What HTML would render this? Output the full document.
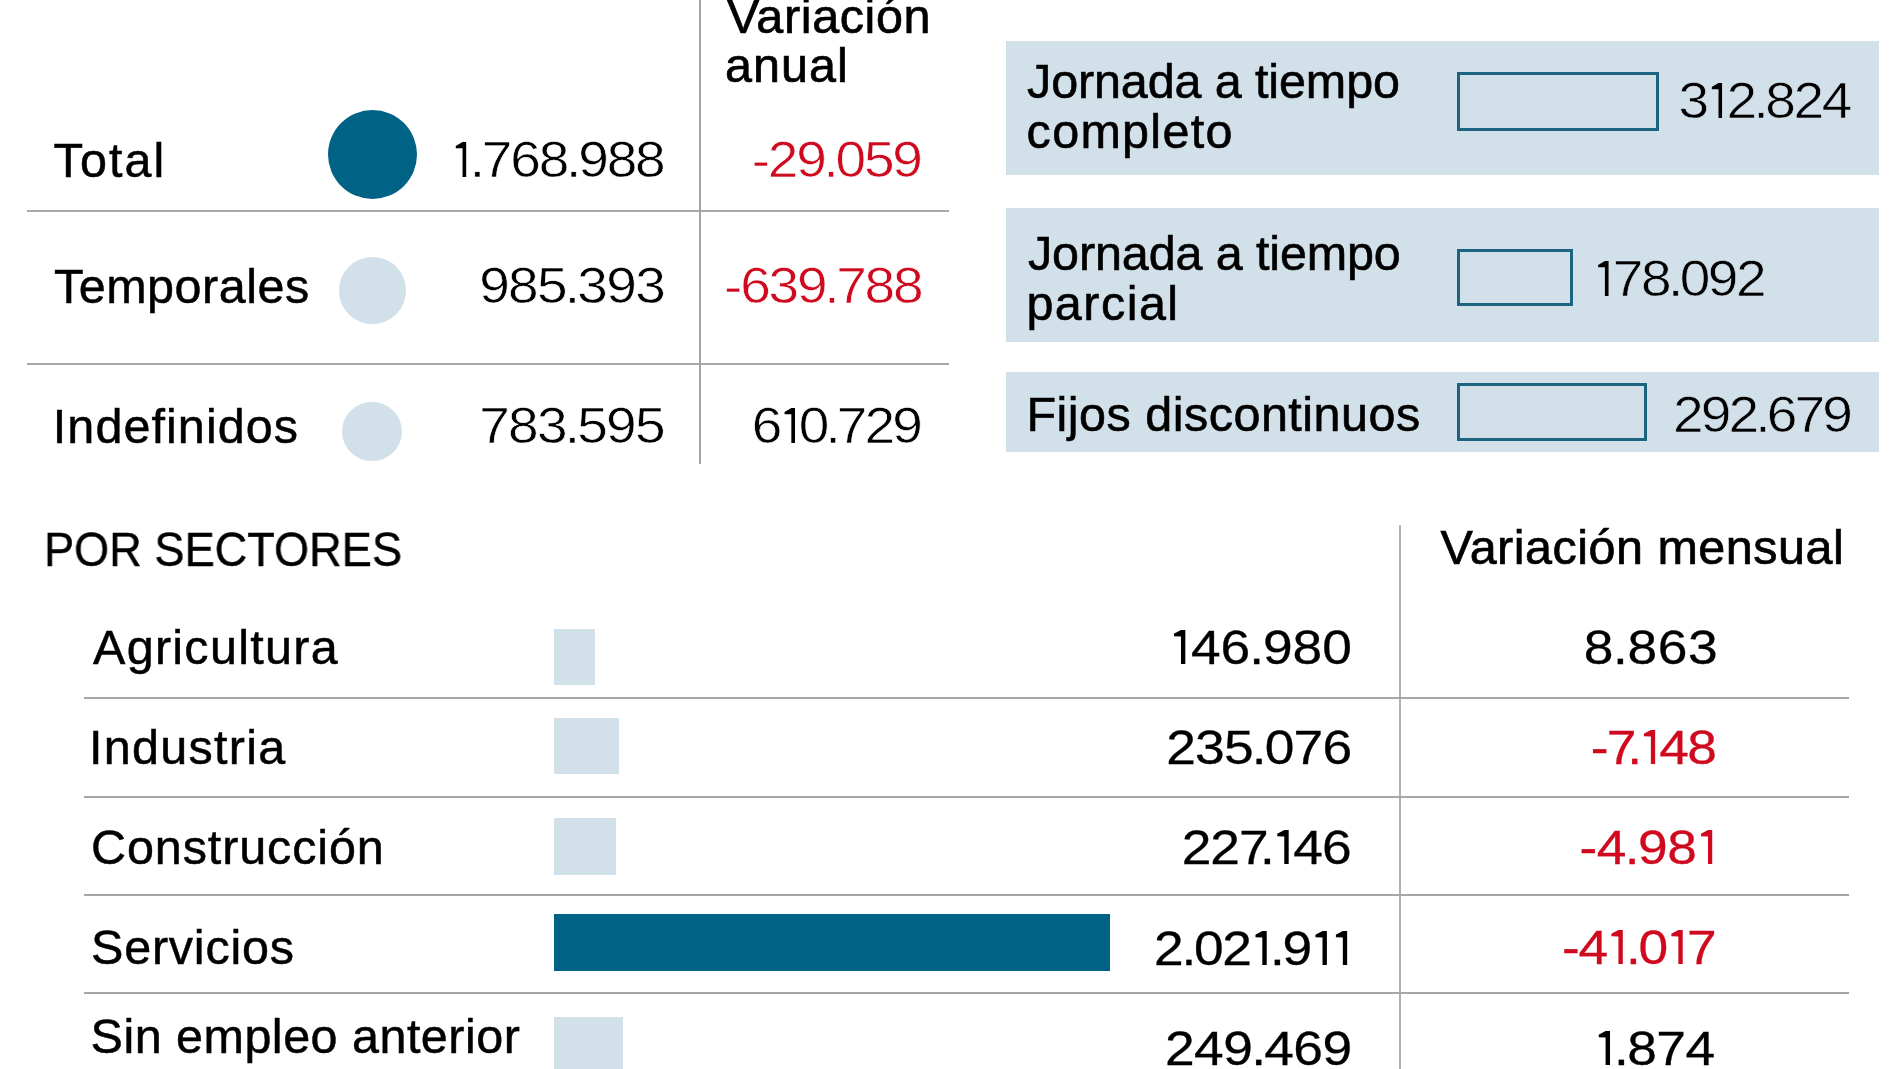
<!DOCTYPE html>
<html><head><meta charset="utf-8"><style>
html,body{margin:0;padding:0;background:#fff;width:1900px;height:1069px;overflow:hidden;position:relative;}
.t{position:absolute;white-space:nowrap;font-family:"Liberation Sans",sans-serif;}
.a{position:absolute;}
.one{display:inline-block;position:relative;width:0.404em;height:0.70em;}
.one::before{content:"";position:absolute;left:0;top:0;width:100%;height:100%;background:currentColor;clip-path:polygon(76.6% 0,76.6% 100%,53.6% 100%,53.6% 19.5%,18.5% 18%,18.5% 11%,53.6% 0);}
.one.thin::before{clip-path:polygon(70% 0,70% 100%,53.6% 100%,53.6% 17.5%,23% 17.5%,23% 11.5%,53.6% 0);}
.one.mid::before{clip-path:polygon(74% 0,74% 100%,53.6% 100%,53.6% 19%,21% 18%,21% 11%,53.6% 0);}
</style></head><body>
<!-- top-left table -->
<div class="a" style="left:27px;top:210px;width:922px;height:2px;background:#a9a9a9"></div>
<div class="a" style="left:27px;top:363px;width:922px;height:2px;background:#a9a9a9"></div>
<div class="a" style="left:699px;top:0px;width:2px;height:464px;background:#a3a3a3"></div>
<div class="a" style="left:327.5px;top:110px;width:89px;height:89px;border-radius:50%;background:#006284"></div>
<div class="a" style="left:339px;top:257px;width:66.5px;height:66.5px;border-radius:50%;background:#d2e0ea"></div>
<div class="a" style="left:342.2px;top:401.5px;width:59.5px;height:59.5px;border-radius:50%;background:#d2e0ea"></div>
<!-- right boxes -->
<div class="a" style="left:1006px;top:41px;width:873px;height:134px;background:#d2e0ea"></div>
<div class="a" style="left:1006px;top:208px;width:873px;height:134px;background:#d2e0ea"></div>
<div class="a" style="left:1006px;top:372px;width:873px;height:80px;background:#d2e0ea"></div>
<div class="a" style="left:1457px;top:72px;width:202px;height:59px;box-sizing:border-box;border:3px solid #1d6482"></div>
<div class="a" style="left:1457px;top:249px;width:116px;height:57px;box-sizing:border-box;border:3px solid #1d6482"></div>
<div class="a" style="left:1457px;top:383px;width:190px;height:58px;box-sizing:border-box;border:3px solid #1d6482"></div>
<!-- bottom table -->
<div class="a" style="left:1399px;top:525px;width:2px;height:544px;background:#b0b0b0"></div>
<div class="a" style="left:84px;top:697px;width:1765px;height:2px;background:#a6a6a6"></div>
<div class="a" style="left:84px;top:796px;width:1765px;height:2px;background:#a6a6a6"></div>
<div class="a" style="left:84px;top:894px;width:1765px;height:2px;background:#a6a6a6"></div>
<div class="a" style="left:84px;top:992px;width:1765px;height:2px;background:#a6a6a6"></div>
<div class="a" style="left:554px;top:629px;width:41px;height:56px;background:#d2e0ea"></div>
<div class="a" style="left:554px;top:718px;width:65px;height:56px;background:#d2e0ea"></div>
<div class="a" style="left:554px;top:818px;width:62px;height:57px;background:#d2e0ea"></div>
<div class="a" style="left:554px;top:914px;width:556px;height:57px;background:#006284"></div>
<div class="a" style="left:554px;top:1017px;width:69px;height:60px;background:#d2e0ea"></div>

<div class="t" style="top:-13.41px;font-size:48.5px;line-height:58px;letter-spacing:0.62px;color:#000;-webkit-text-stroke:0.7px #000;left:727.00px;">Variación</div>
<div class="t" style="top:36.49px;font-size:48.5px;line-height:58px;letter-spacing:1.00px;color:#000;-webkit-text-stroke:0.7px #000;left:725.00px;">anual</div>
<div class="t" style="top:130.79px;font-size:48.5px;line-height:58px;letter-spacing:2.08px;color:#000;-webkit-text-stroke:0.5px #000;left:53.60px;">Total</div>
<div class="t" style="top:130.18px;font-size:50px;line-height:60px;letter-spacing:-1.92px;color:#000;-webkit-text-stroke:0.6px #fff;transform:scaleX(1.1000);transform-origin:right center;will-change:transform;right:1236.72px;text-align:right;"><span class="one thin" style="margin-right:-1.92px"></span><span style="margin-left:-1px;letter-spacing:-2.92px">.</span>768<span style="margin-left:-1px;letter-spacing:-2.92px">.</span>988</div>
<div class="t" style="top:129.68px;font-size:50px;line-height:60px;letter-spacing:-1.98px;color:#cf0a1e;-webkit-text-stroke:0.6px #fff;transform:scaleX(1.1000);transform-origin:right center;will-change:transform;right:979.18px;text-align:right;">-29<span style="margin-left:-1px;letter-spacing:-2.98px">.</span>059</div>
<div class="t" style="top:257.09px;font-size:48.5px;line-height:58px;letter-spacing:0.50px;color:#000;-webkit-text-stroke:0.5px #000;left:54.00px;">Temporales</div>
<div class="t" style="top:256.28px;font-size:50px;line-height:60px;letter-spacing:-1.52px;color:#000;-webkit-text-stroke:0.6px #fff;transform:scaleX(1.1000);transform-origin:right center;will-change:transform;right:1235.92px;text-align:right;">985<span style="margin-left:-1px;letter-spacing:-2.52px">.</span>393</div>
<div class="t" style="top:256.18px;font-size:50px;line-height:60px;letter-spacing:-2.01px;color:#cf0a1e;-webkit-text-stroke:0.6px #fff;transform:scaleX(1.1000);transform-origin:right center;will-change:transform;right:978.81px;text-align:right;">-639<span style="margin-left:-1px;letter-spacing:-3.01px">.</span>788</div>
<div class="t" style="top:396.79px;font-size:48.5px;line-height:58px;letter-spacing:1.07px;color:#000;-webkit-text-stroke:0.5px #000;left:52.80px;">Indefinidos</div>
<div class="t" style="top:396.18px;font-size:50px;line-height:60px;letter-spacing:-1.57px;color:#000;-webkit-text-stroke:0.6px #fff;transform:scaleX(1.1000);transform-origin:right center;will-change:transform;right:1235.97px;text-align:right;">783<span style="margin-left:-1px;letter-spacing:-2.57px">.</span>595</div>
<div class="t" style="top:396.18px;font-size:50px;line-height:60px;letter-spacing:-2.60px;color:#000;-webkit-text-stroke:0.6px #fff;transform:scaleX(1.1000);transform-origin:right center;will-change:transform;right:980.40px;text-align:right;">6<span class="one thin" style="margin-right:-2.60px"></span>0<span style="margin-left:-1px;letter-spacing:-3.60px">.</span>729</div>
<div class="t" style="top:52.19px;font-size:48.5px;line-height:58px;letter-spacing:-0.12px;color:#000;-webkit-text-stroke:0.6px #000;left:1027.00px;">Jornada a tiempo</div>
<div class="t" style="top:102.39px;font-size:48.5px;line-height:58px;letter-spacing:1.29px;color:#000;-webkit-text-stroke:0.6px #000;left:1026.60px;">completo</div>
<div class="t" style="top:71.17px;font-size:50px;line-height:60px;letter-spacing:-2.17px;color:#000;-webkit-text-stroke:0.6px #d2e0ea;transform:scaleX(1.1000);transform-origin:right center;will-change:transform;right:49.57px;text-align:right;">3<span class="one thin" style="margin-right:-2.17px"></span>2<span style="margin-left:-1px;letter-spacing:-3.17px">.</span>824</div>
<div class="t" style="top:224.19px;font-size:48.5px;line-height:58px;letter-spacing:-0.13px;color:#000;-webkit-text-stroke:0.6px #000;left:1028.00px;">Jornada a tiempo</div>
<div class="t" style="top:273.89px;font-size:48.5px;line-height:58px;letter-spacing:1.48px;color:#000;-webkit-text-stroke:0.6px #000;left:1026.40px;">parcial</div>
<div class="t" style="top:249.48px;font-size:50px;line-height:60px;letter-spacing:-2.22px;color:#000;-webkit-text-stroke:0.6px #d2e0ea;transform:scaleX(1.1000);transform-origin:left center;will-change:transform;left:1593.40px;"><span class="one thin" style="margin-right:-2.22px"></span>78<span style="margin-left:-1px;letter-spacing:-3.22px">.</span>092</div>
<div class="t" style="top:385.19px;font-size:48.5px;line-height:58px;letter-spacing:0.49px;color:#000;-webkit-text-stroke:0.6px #000;left:1026.40px;">Fijos discontinuos</div>
<div class="t" style="top:385.18px;font-size:50px;line-height:60px;letter-spacing:-2.52px;color:#000;-webkit-text-stroke:0.6px #d2e0ea;transform:scaleX(1.1000);transform-origin:right center;will-change:transform;right:50.32px;text-align:right;">292<span style="margin-left:-1px;letter-spacing:-3.52px">.</span>679</div>
<div class="t" style="top:519.99px;font-size:48.5px;line-height:58px;letter-spacing:0.00px;color:#000;-webkit-text-stroke:0.4px #000;transform:scaleX(0.9310);transform-origin:left center;will-change:transform;left:43.60px;">POR SECTORES</div>
<div class="t" style="top:518.09px;font-size:48.5px;line-height:58px;letter-spacing:0.50px;color:#000;-webkit-text-stroke:0.7px #000;left:1440.40px;">Variación mensual</div>
<div class="t" style="top:618.19px;font-size:48.5px;line-height:58px;letter-spacing:1.28px;color:#000;-webkit-text-stroke:0.5px #000;left:93.00px;">Agricultura</div>
<div class="t" style="top:718.19px;font-size:48.5px;line-height:58px;letter-spacing:1.27px;color:#000;-webkit-text-stroke:0.5px #000;left:89.00px;">Industria</div>
<div class="t" style="top:818.19px;font-size:48.5px;line-height:58px;letter-spacing:0.89px;color:#000;-webkit-text-stroke:0.5px #000;left:91.00px;">Construcción</div>
<div class="t" style="top:918.19px;font-size:48.5px;line-height:58px;letter-spacing:0.78px;color:#000;-webkit-text-stroke:0.5px #000;left:91.00px;">Servicios</div>
<div class="t" style="top:1007.49px;font-size:48.5px;line-height:58px;letter-spacing:0.48px;color:#000;-webkit-text-stroke:0.5px #000;left:90.60px;">Sin empleo anterior</div>
<div class="t" style="top:618.19px;font-size:48.5px;line-height:58px;letter-spacing:-0.01px;color:#000;-webkit-text-stroke:0.3px #000;transform:scaleX(1.1000);transform-origin:right center;will-change:transform;right:548.01px;text-align:right;"><span class="one mid" style="margin-right:-0.01px"></span>46<span style="margin-left:-1px;letter-spacing:-1.01px">.</span>980</div>
<div class="t" style="top:718.19px;font-size:48.5px;line-height:58px;letter-spacing:-0.72px;color:#000;-webkit-text-stroke:0.3px #000;transform:scaleX(1.1000);transform-origin:right center;will-change:transform;right:548.72px;text-align:right;">235<span style="margin-left:-1px;letter-spacing:-1.72px">.</span>076</div>
<div class="t" style="top:818.19px;font-size:48.5px;line-height:58px;letter-spacing:-0.90px;color:#000;-webkit-text-stroke:0.3px #000;transform:scaleX(1.1000);transform-origin:right center;will-change:transform;right:548.90px;text-align:right;">227<span style="margin-left:-7px;letter-spacing:-1.90px">.</span><span class="one mid" style="margin-right:-0.90px"></span>46</div>
<div class="t" style="top:918.69px;font-size:48.5px;line-height:58px;letter-spacing:-1.12px;color:#000;-webkit-text-stroke:0.3px #000;transform:scaleX(1.1000);transform-origin:right center;will-change:transform;right:548.12px;text-align:right;">2<span style="margin-left:-1px;letter-spacing:-2.12px">.</span>02<span class="one mid" style="margin-right:-1.12px"></span><span style="margin-left:-1px;letter-spacing:-2.12px">.</span>9<span class="one mid" style="margin-right:-1.12px"></span><span class="one mid" style="margin-right:-1.12px"></span></div>
<div class="t" style="top:1019.19px;font-size:48.5px;line-height:58px;letter-spacing:-0.55px;color:#000;-webkit-text-stroke:0.3px #000;transform:scaleX(1.1000);transform-origin:right center;will-change:transform;right:548.55px;text-align:right;">249<span style="margin-left:-1px;letter-spacing:-1.55px">.</span>469</div>
<div class="t" style="top:617.69px;font-size:48.5px;line-height:58px;letter-spacing:0.60px;color:#000;-webkit-text-stroke:0.3px #000;transform:scaleX(1.1000);transform-origin:right center;will-change:transform;right:181.80px;text-align:right;">8<span style="margin-left:-1px;letter-spacing:-0.40px">.</span>863</div>
<div class="t" style="top:717.99px;font-size:48.5px;line-height:58px;letter-spacing:-1.46px;color:#cf0a1e;-webkit-text-stroke:0.3px #cf0a1e;transform:scaleX(1.1000);transform-origin:right center;will-change:transform;right:184.46px;text-align:right;">-7<span style="margin-left:-7px;letter-spacing:-2.46px">.</span><span class="one mid" style="margin-right:-1.46px"></span>48</div>
<div class="t" style="top:818.19px;font-size:48.5px;line-height:58px;letter-spacing:-0.44px;color:#cf0a1e;-webkit-text-stroke:0.3px #cf0a1e;transform:scaleX(1.1000);transform-origin:right center;will-change:transform;right:182.84px;text-align:right;">-4<span style="margin-left:-1px;letter-spacing:-1.44px">.</span>98<span class="one mid" style="margin-right:-0.44px"></span></div>
<div class="t" style="top:917.69px;font-size:48.5px;line-height:58px;letter-spacing:-1.20px;color:#cf0a1e;-webkit-text-stroke:0.3px #cf0a1e;transform:scaleX(1.1000);transform-origin:right center;will-change:transform;right:184.19px;text-align:right;">-4<span class="one mid" style="margin-right:-1.20px"></span><span style="margin-left:-1px;letter-spacing:-2.20px">.</span>0<span class="one mid" style="margin-right:-1.20px"></span>7</div>
<div class="t" style="top:1019.19px;font-size:48.5px;line-height:58px;letter-spacing:-0.47px;color:#000;-webkit-text-stroke:0.3px #000;transform:scaleX(1.1000);transform-origin:right center;will-change:transform;right:185.47px;text-align:right;"><span class="one mid" style="margin-right:-0.47px"></span><span style="margin-left:-1px;letter-spacing:-1.48px">.</span>874</div>
</body></html>
